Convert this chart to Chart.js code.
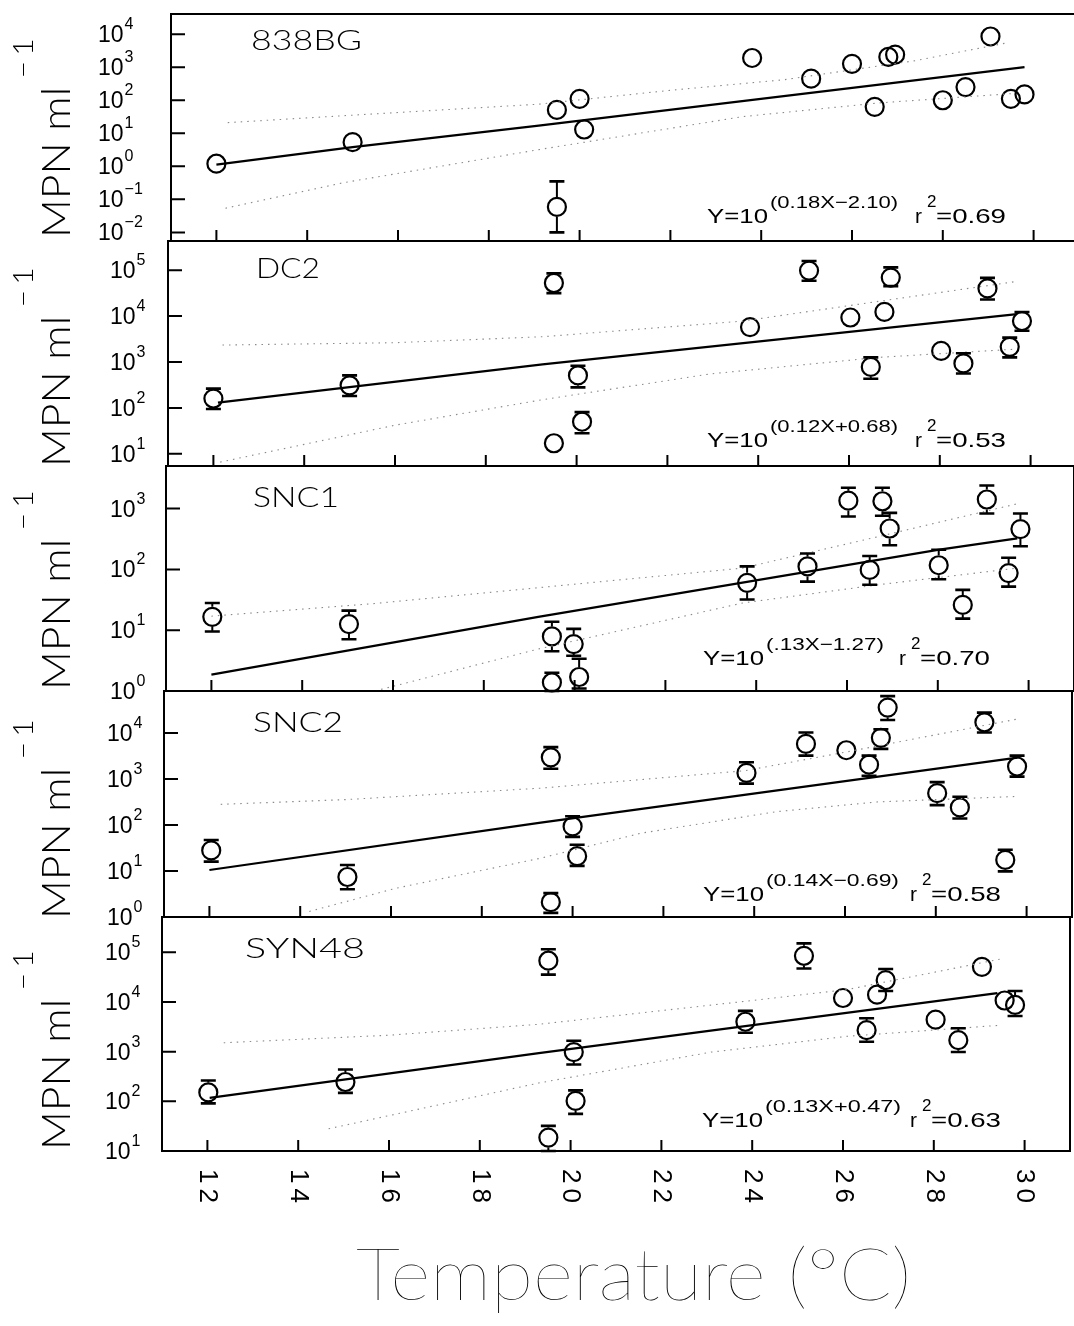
<!DOCTYPE html>
<html><head><meta charset="utf-8">
<script src="https://cdn.jsdelivr.net/npm/chart.js@4.4.1/dist/chart.umd.min.js"></script>
<style>
html,body{margin:0;padding:0;background:#fff;}
body{width:1074px;height:1326px;position:relative;overflow:hidden;}
canvas{position:absolute;left:0;}
.t{position:absolute;white-space:nowrap;color:#000;transform-origin:0 0;}
</style></head><body>
<script>
// ---------------- DATA ----------------
const temperatureTicks = [12, 14, 16, 18, 20, 22, 24, 26, 28, 30];
const panelNames = ['838BG', 'DC2', 'SNC1', 'SNC2', 'SYN48'];
const fitExponents = ['(0.18X\u22122.10)', '(0.12X+0.68)', '(.13X\u22121.27)', '(0.14X\u22120.69)', '(0.13X+0.47)'];
const rSquared = ['0.69', '0.53', '0.70', '0.58', '0.63'];
const yTickPowers = [[-2, -1, 0, 1, 2, 3, 4], [1, 2, 3, 4, 5], [0, 1, 2, 3], [0, 1, 2, 3, 4], [1, 2, 3, 4, 5]];

// 838BG
const p1Temp  = [12.0, 15.0, 19.5, 20.0, 20.1, 19.5, 23.8, 25.1, 26.0, 26.5, 26.8, 26.95, 28.0, 28.5, 29.05, 29.5, 29.8];
const p1MPN   = [1.2, 5.4, 51, 110, 13, 0.059, 1900, 450, 1260, 63, 2040, 2400, 100, 250, 8500, 110, 150];
const p1ErrHi = [null, null, null, null, null, 0.35, null, null, null, null, null, null, null, null, null, null, null];
const p1ErrLo = [null, null, null, null, null, 0.010, null, null, null, null, null, null, null, null, null, null, null];
const p1FitT = [12.0, 15.0, 19.1, 29.8];
const p1FitMPN = [1.12, 3.8, 17, 1000];
const p1UpT = [12.25, 14.8, 19.1, 22.0, 24.5, 27.4, 29.4];
const p1UpMPN = [21, 34, 76, 200, 417, 1580, 5400];
const p1LoT = [12.2, 14.8, 19.1, 23.6, 26.6, 29.5];
const p1LoMPN = [0.054, 0.32, 3.2, 32, 83, 158];

// DC2
const p2Temp  = [12.0, 15.0, 19.5, 20.03, 20.12, 19.5, 23.82, 25.12, 26.03, 26.48, 26.78, 26.92, 28.03, 28.52, 29.05, 29.54, 29.81];
const p2MPN   = [160, 310, 52500, 510, 50, 17, 5750, 98000, 9300, 780, 12300, 69000, 1740, 930, 40000, 2140, 7800];
const p2ErrHi = [263, 510, 85000, 830, 81, null, null, 158000, null, 1260, null, 115000, null, 1550, 68000, 3400, 12300];
const p2ErrLo = [95, 182, 31600, 280, 28, null, null, 59000, null, 430, null, 45000, null, 560, 23000, 1260, 4800];
const p2FitT = [12.1, 19.25, 29.7];
const p2FitMPN = [130, 890, 11000];
const p2UpT = [12.2, 16.0, 19.25, 23.65, 26.65, 29.65];
const p2UpMPN = [2340, 2630, 3550, 7760, 20900, 56000];
const p2LoT = [12.15, 16.0, 19.25, 22.95, 26.65, 29.65];
const p2LoMPN = [6.6, 42, 151, 550, 1260, 1900];

// SNC1
const p3Temp  = [12.02, 15.03, 19.5, 19.98, 19.5, 20.1, 23.8, 25.13, 26.03, 26.5, 26.78, 26.94, 28.02, 28.55, 29.08, 29.56, 29.82];
const p3MPN   = [16.6, 12.6, 7.9, 5.9, 1.38, 1.7, 60, 112, 1350, 98, 1320, 470, 117, 26, 1410, 87, 460];
const p3ErrHi = [28, 21, 13.8, 10.5, 2.0, 3.4, 112, 182, 2200, 166, 2200, 850, 210, 46, 2400, 155, 830];
const p3ErrLo = [9.5, 7.1, 4.5, 3.8, 1.0, 1.1, 32, 63, 740, 56, 760, 250, 69, 15.5, 830, 52, 240];
const p3FitT = [12.0, 19.2, 28.0, 29.75];
const p3FitMPN = [1.86, 16.6, 209, 324];
const p3UpT = [12.0, 15.6, 19.2, 23.7, 26.7, 29.75];
const p3UpMPN = [17, 27.5, 50, 105, 347, 1200];
const p3LoT = [15.6, 19.2, 23.7, 26.7, 29.75];
const p3LoMPN = [1.0, 4.9, 28, 56, 105];

// SNC2
const p4Temp  = [12.04, 15.04, 19.52, 23.83, 20.0, 20.1, 19.52, 25.14, 26.03, 26.53, 26.79, 26.94, 28.03, 28.53, 29.07, 29.79, 29.53];
const p4MPN   = [28, 7.4, 2950, 1350, 93, 21, 2.1, 5750, 4200, 2040, 7800, 35500, 490, 240, 17000, 1860, 17.4];
const p4ErrHi = [47, 13.5, 4900, 2300, 155, 37, 3.3, 10200, null, 3200, 12000, 63000, 850, 410, 27500, 3200, 29];
const p4ErrLo = [16, 4.0, 1660, 790, 55, 12.9, 1.23, 3200, null, 1170, 4500, 19000, 270, 138, 10200, 1120, 9.8];
const p4FitT = [12.0, 19.3, 29.8];
const p4FitMPN = [10.5, 112, 2900];
const p4UpT = [12.25, 15.0, 19.3, 23.8, 26.0, 29.8];
const p4UpMPN = [280, 355, 630, 1510, 3800, 20000];
const p4LoT = [14.2, 16.1, 19.3, 21.5, 24.5, 26.7, 29.8];
const p4LoMPN = [1.32, 4.2, 19, 66, 195, 316, 417];

// SYN48
const p5Temp  = [12.02, 15.04, 19.51, 20.07, 20.11, 19.51, 23.85, 25.14, 26.0, 26.52, 26.75, 26.94, 28.04, 28.54, 29.06, 29.56, 29.79];
const p5MPN   = [151, 245, 67600, 980, 102, 18.6, 4000, 85000, 12000, 2700, 14000, 27500, 4400, 1700, 51000, 10700, 8700];
const p5ErrHi = [263, 437, 115000, 1660, 166, 32, 6600, 151000, null, 4700, null, 46000, null, 2950, null, null, 16600];
const p5ErrLo = [91, 148, 35500, 550, 56, 10, 2400, 47000, null, 1580, null, 16600, null, 980, null, null, 5200];
const p5FitT = [12.05, 19.3, 29.4];
const p5FitMPN = [117, 930, 15100];
const p5UpT = [12.36, 16.0, 19.3, 23.8, 26.1, 29.45];
const p5UpMPN = [1510, 2140, 3550, 10200, 17800, 72400];
const p5LoT = [14.67, 19.3, 23.1, 26.1, 29.45];
const p5LoMPN = [28, 234, 980, 2040, 3390];

// ---------------- LAYOUT ----------------
const FRAME_TOP = [14, 241, 466, 691, 917];
const FRAME_BOTTOM = [241, 466, 691, 917, 1151];
const FRAME_LEFT = [171, 168, 166, 164, 162];
const X_MIN = 11, X_MAX = 31, PX_PER_DEG = 45.4;
const Y_MIN = [0.0055, 5.43, 1, 1, 10];
const Y_MAX = [40700, 431500, 5012, 81300, 512900];
const TICK_LABEL_X = [98, 110, 110, 107, 105];
const CANVAS_W = 1100, PAD = 14;

const SANS = "'Liberation Sans', Arial, sans-serif";
const LIGHT = "Lato, 'DejaVu Sans', sans-serif";

const panels = [
  {t: p1Temp, m: p1MPN, hi: p1ErrHi, lo: p1ErrLo, ft: p1FitT, fm: p1FitMPN, ut: p1UpT, um: p1UpMPN, lt: p1LoT, lm: p1LoMPN},
  {t: p2Temp, m: p2MPN, hi: p2ErrHi, lo: p2ErrLo, ft: p2FitT, fm: p2FitMPN, ut: p2UpT, um: p2UpMPN, lt: p2LoT, lm: p2LoMPN},
  {t: p3Temp, m: p3MPN, hi: p3ErrHi, lo: p3ErrLo, ft: p3FitT, fm: p3FitMPN, ut: p3UpT, um: p3UpMPN, lt: p3LoT, lm: p3LoMPN},
  {t: p4Temp, m: p4MPN, hi: p4ErrHi, lo: p4ErrLo, ft: p4FitT, fm: p4FitMPN, ut: p4UpT, um: p4UpMPN, lt: p4LoT, lm: p4LoMPN},
  {t: p5Temp, m: p5MPN, hi: p5ErrHi, lo: p5ErrLo, ft: p5FitT, fm: p5FitMPN, ut: p5UpT, um: p5UpMPN, lt: p5LoT, lm: p5LoMPN}
];

const pairs = (xs, ys) => xs.map((x, k) => ({x: x, y: ys[k]}));

const decorPlugin = {
  id: 'decor',
  afterDatasetsDraw(chart, args, opts) {
    const ctx = chart.ctx, a = chart.chartArea, xs = chart.scales.x, ys = chart.scales.y;
    const i = opts.index;
    ctx.save();
    ctx.strokeStyle = '#000';
    ctx.lineCap = 'butt';
    // error bars
    const ds = chart.data.datasets[3];
    ds.data.forEach((pt, k) => {
      const hi = ds.errHi[k], lo = ds.errLo[k];
      if (hi == null) return;
      const x = xs.getPixelForValue(pt.x), y = ys.getPixelForValue(pt.y);
      const yh = ys.getPixelForValue(hi), yl = ys.getPixelForValue(lo);
      const r = 10;
      ctx.lineWidth = 2;
      ctx.beginPath();
      if (yh < y - r) { ctx.moveTo(x, y - r); ctx.lineTo(x, yh); }
      if (yl > y + r) { ctx.moveTo(x, y + r); ctx.lineTo(x, yl); }
      ctx.stroke();
      ctx.lineWidth = 2.6;
      ctx.beginPath();
      ctx.moveTo(x - 7.5, yh); ctx.lineTo(x + 7.5, yh);
      ctx.moveTo(x - 7.5, yl); ctx.lineTo(x + 7.5, yl);
      ctx.stroke();
    });
    // frame
    ctx.lineWidth = 2;
    ctx.strokeRect(a.left, a.top, a.right - a.left, a.bottom - a.top);
    // x ticks (inward, bottom)
    ctx.beginPath();
    temperatureTicks.forEach(v => {
      const x = xs.getPixelForValue(v);
      ctx.moveTo(x, a.bottom); ctx.lineTo(x, a.bottom - 11);
    });
    // y ticks (inward, left)
    yTickPowers[i].forEach(p => {
      const y = ys.getPixelForValue(Math.pow(10, p));
      ctx.moveTo(a.left, y); ctx.lineTo(a.left + 14, y);
    });
    ctx.stroke();
    // y tick labels 10^p
    ctx.fillStyle = '#000';
    ctx.textAlign = 'left';
    ctx.textBaseline = 'alphabetic';
    yTickPowers[i].forEach(p => {
      const y = ys.getPixelForValue(Math.pow(10, p));
      ctx.font = '23px ' + SANS;
      const bx = TICK_LABEL_X[i];
      ctx.fillText('10', bx, y + 8);
      const w = ctx.measureText('10').width;
      ctx.font = '16px ' + SANS;
      ctx.fillText(p < 0 ? '\u2212' + Math.abs(p) : String(p), bx + w + 1, y - 5);
    });
    // x tick labels on the bottom panel, rotated clockwise
    if (i === 4) {
      ctx.font = '26px ' + SANS;
      ctx.textBaseline = 'middle';
      ctx.textAlign = 'left';
      if ('letterSpacing' in ctx) ctx.letterSpacing = '5px';
      temperatureTicks.forEach(v => {
        const x = xs.getPixelForValue(v);
        ctx.save();
        ctx.translate(x, a.bottom + 18);
        ctx.rotate(Math.PI / 2);
        ctx.fillText(String(v), 0, 0);
        ctx.restore();
      });
    }
    ctx.restore();
  }
};

panels.forEach((p, i) => {
  const c = document.createElement('canvas');
  const extraBottom = i === 4 ? 80 : 0;
  const top = FRAME_TOP[i] - PAD;
  const h = FRAME_BOTTOM[i] - FRAME_TOP[i] + 2 * PAD + extraBottom;
  c.width = CANVAS_W; c.height = h;
  c.style.top = top + 'px';
  c.style.width = CANVAS_W + 'px'; c.style.height = h + 'px';
  document.body.appendChild(c);
  const right = FRAME_LEFT[i] + (X_MAX - X_MIN) * PX_PER_DEG;
  const band = (data) => ({type: 'line', data: data, borderColor: '#8a8a8a', borderWidth: 1.1,
    borderDash: [1.5, 5], pointRadius: 0, fill: false, tension: 0});
  new Chart(c, {
    type: 'scatter',
    data: {datasets: [
      band(pairs(p.ut, p.um)),
      band(pairs(p.lt, p.lm)),
      {type: 'line', data: pairs(p.ft, p.fm), borderColor: '#000', borderWidth: 2.2, pointRadius: 0, fill: false, tension: 0},
      {type: 'scatter', data: pairs(p.t, p.m), errHi: p.hi, errLo: p.lo, pointStyle: 'circle', pointRadius: 9,
        borderWidth: 2.2, borderColor: '#000', backgroundColor: 'rgba(0,0,0,0)', clip: false}
    ]},
    options: {
      responsive: false, animation: false, devicePixelRatio: 1, events: [],
      layout: {padding: {left: FRAME_LEFT[i], right: CANVAS_W - right, top: PAD, bottom: PAD + extraBottom}},
      plugins: {legend: {display: false}, tooltip: {enabled: false}, decor: {index: i}},
      scales: {
        x: {type: 'linear', min: X_MIN, max: X_MAX, display: false},
        y: {type: 'logarithmic', min: Y_MIN[i], max: Y_MAX[i], display: false}
      }
    },
    plugins: [decorPlugin]
  });
});

// ---------------- TEXT ----------------
const mctx = document.createElement('canvas').getContext('2d');
function baseOffset(size, weight, family) {
  mctx.font = weight + ' ' + size + 'px ' + family;
  const m = mctx.measureText('Hg');
  const A = m.fontBoundingBoxAscent, D = m.fontBoundingBoxDescent;
  return (size - (A + D)) / 2 + A;
}
function place(text, x, baseline, size, weight, family, targetW) {
  const el = document.createElement('div');
  el.className = 't';
  el.textContent = text;
  el.style.font = weight + ' ' + size + 'px ' + family;
  el.style.lineHeight = size + 'px';
  el.style.left = x + 'px';
  el.style.top = (baseline - baseOffset(size, weight, family)) + 'px';
  document.body.appendChild(el);
  if (targetW) {
    const w = el.getBoundingClientRect().width;
    el.style.transform = 'scaleX(' + (targetW / w) + ')';
  }
  return el;
}

const NAME_X = [251, 256, 253, 253, 245];
const NAME_BASE = [50, 278, 507, 732, 958];
const NAME_W = [111, 64, 86, 90, 120];
panelNames.forEach((n, i) => place(n, NAME_X[i], NAME_BASE[i], 28, 300, LIGHT, NAME_W[i]));

const EQ_X = [707, 707, 703, 703, 702];
const EQ_BASE = [223, 447, 665, 901, 1127];
const EQ_SUP_W = [128, 128, 118, 133, 136];
const EQ_R_X = [915, 915, 899, 910, 910];
fitExponents.forEach((e, i) => {
  const x = EQ_X[i], b = EQ_BASE[i];
  place('Y=10', x, b, 21, 400, SANS, 61);
  place(e, x + 63, b - 15, 17, 400, SANS, EQ_SUP_W[i]);
  place('r', EQ_R_X[i], b, 21, 400, SANS, null);
  place('2', EQ_R_X[i] + 12, b - 16, 17, 400, SANS, null);
  place('=' + rSquared[i], EQ_R_X[i] + 21, b, 21, 400, SANS, 70);
});

// y axis titles (rotated)
const YT_BOTTOM = [238, 467, 690, 919, 1150];
YT_BOTTOM.forEach(bottom => {
  const el = document.createElement('div');
  el.className = 't';
  el.style.font = '300 40px ' + LIGHT;
  el.style.lineHeight = '40px';
  el.innerHTML = 'MPN ml<span style="position:relative;top:-37px;font-size:28px;margin-left:8px;letter-spacing:5px">\u22121</span>';
  const b = baseOffset(40, 300, LIGHT);
  el.style.left = (70 - b) + 'px';
  el.style.top = bottom + 'px';
  document.body.appendChild(el);
  const w = el.getBoundingClientRect().width;
  el.style.transform = 'rotate(-90deg) scaleX(' + (205 / w) + ')';
});

// x axis title
place('Temperature (\u00B0C)', 356, 1300, 72, 200, LIGHT, 555);
</script>
</body></html>
